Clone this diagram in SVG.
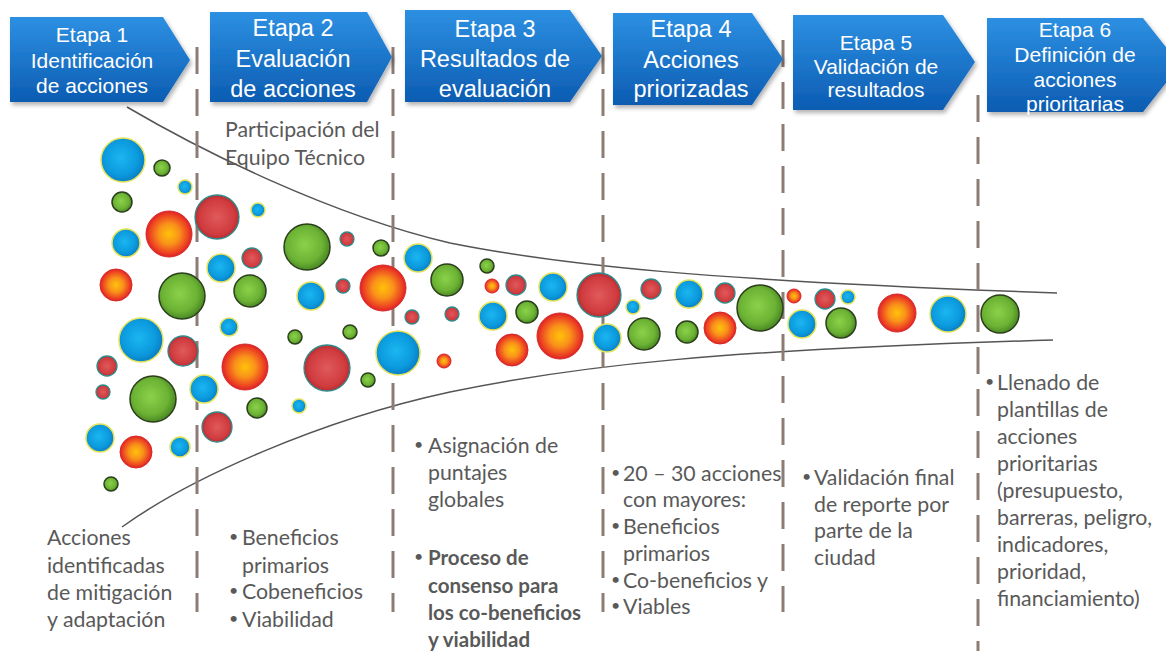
<svg xmlns="http://www.w3.org/2000/svg" width="1166" height="651" viewBox="0 0 1166 651">
<defs>
<style>
.hdr{fill:url(#gHdr);}
.ht{font-family:"Liberation Sans",Arial,sans-serif;fill:#fff;text-anchor:middle;}
.hs{font-size:21px;}
.hl{font-size:23.5px;}
.bt{font-family:Lato,"Liberation Sans",sans-serif;font-size:21.3px;fill:#595959;}
.bd{font-weight:bold;font-size:20.5px;}
.bu{font-family:Lato,"Liberation Sans",sans-serif;font-size:16px;fill:#595959;}
.dash{stroke:#8c7c74;stroke-width:3;stroke-dasharray:27 15;fill:none;}
.fun{stroke:#555;stroke-width:1.5;fill:none;}
.b{fill:url(#gB);stroke:#e4e25a;stroke-width:1.5;}
.g{fill:url(#gG);stroke:#2c3f1c;stroke-width:1.5;}
.o{fill:url(#gO);stroke:#d82828;stroke-width:1;}
.r{fill:url(#gR);stroke:#2f8b8b;stroke-width:1.3;}
</style>
<linearGradient id="gHdr" x1="0" y1="0" x2="0" y2="1">
<stop offset="0" stop-color="#2d90e2"/>
<stop offset="1" stop-color="#0c5cb2"/>
</linearGradient>
<radialGradient id="gB" cx="0.45" cy="0.45" r="0.55">
<stop offset="0" stop-color="#1bb6f0"/>
<stop offset="0.7" stop-color="#0b9ade"/>
<stop offset="1" stop-color="#0a7fc6"/>
</radialGradient>
<radialGradient id="gG" cx="0.45" cy="0.45" r="0.55">
<stop offset="0" stop-color="#8bd24a"/>
<stop offset="0.7" stop-color="#6cb234"/>
<stop offset="1" stop-color="#4b8a24"/>
</radialGradient>
<radialGradient id="gO" cx="0.5" cy="0.5" r="0.5">
<stop offset="0" stop-color="#ffc20a"/>
<stop offset="0.45" stop-color="#f9921a"/>
<stop offset="0.85" stop-color="#ec4022"/>
<stop offset="1" stop-color="#dc2228"/>
</radialGradient>
<radialGradient id="gR" cx="0.5" cy="0.5" r="0.5">
<stop offset="0" stop-color="#e05a5c"/>
<stop offset="0.8" stop-color="#d03b3e"/>
<stop offset="1" stop-color="#b82c30"/>
</radialGradient>
<filter id="sh" x="-5%" y="-5%" width="115%" height="125%">
<feDropShadow dx="2" dy="3" stdDeviation="2" flood-color="#000" flood-opacity="0.3"/>
</filter>
</defs>
<rect width="1166" height="651" fill="#fff"/>

<g id="connectors">
<path class="fun" d="M127,107 C200,150 330,215 450,243 C560,265 700,280 1057,293"/>
<path class="fun" d="M122,527 C190,478 320,420 450,392 C580,365 720,350 1053,340"/>
<line class="dash" x1="197" y1="47" x2="197" y2="612"/>
<line class="dash" x1="393" y1="47" x2="393" y2="612"/>
<line class="dash" x1="603" y1="47" x2="603" y2="612"/>
<line class="dash" x1="783" y1="40" x2="783" y2="612"/>
<line class="dash" x1="978" y1="95" x2="978" y2="651"/>
</g>

<g id="etapa1">
<polygon class="hdr" filter="url(#sh)" points="10,17 163,17 190,60 163,102 10,102"/>
<text class="ht hs" x="92" y="42">Etapa 1</text>
<text class="ht hs" x="92" y="68">Identificación</text>
<text class="ht hs" x="92" y="93">de acciones</text>
</g>
<g id="etapa2">
<polygon class="hdr" filter="url(#sh)" points="210,12 367,12 392,57 367,102 210,102"/>
<text class="ht hl" x="293" y="36">Etapa 2</text>
<text class="ht hl" x="293" y="67">Evaluación</text>
<text class="ht hl" x="293" y="97">de acciones</text>
</g>
<g id="etapa3">
<polygon class="hdr" filter="url(#sh)" points="405,10 570,10 602,56 570,102 405,102"/>
<text class="ht hl" x="495" y="37">Etapa 3</text>
<text class="ht hl" x="495" y="67">Resultados de</text>
<text class="ht hl" x="495" y="97">evaluación</text>
</g>
<g id="etapa4">
<polygon class="hdr" filter="url(#sh)" points="613,13 752,13 783,59 752,105 613,105"/>
<text class="ht hl" x="691" y="37">Etapa 4</text>
<text class="ht hl" x="691" y="68">Acciones</text>
<text class="ht hl" x="691" y="97">priorizadas</text>
</g>
<g id="etapa5">
<polygon class="hdr" filter="url(#sh)" points="793,15 943,15 975,62 943,110 793,110"/>
<text class="ht hs" x="876" y="50">Etapa 5</text>
<text class="ht hs" x="876" y="74">Validación de</text>
<text class="ht hs" x="876" y="97">resultados</text>
</g>
<g id="etapa6">
<polygon class="hdr" filter="url(#sh)" points="987,18 1143,18 1180,65 1143,112 987,112"/>
<text class="ht hs" x="1075" y="37">Etapa 6</text>
<text class="ht hs" x="1075" y="62">Definición de</text>
<text class="ht hs" x="1075" y="87">acciones</text>
<text class="ht hs" x="1075" y="111">prioritarias</text>
</g>

<g id="bubbles">
<circle class="b" cx="123" cy="160" r="22"/>
<circle class="g" cx="162" cy="168" r="8"/>
<circle class="b" cx="185" cy="187" r="7"/>
<circle class="g" cx="122" cy="202" r="10"/>
<circle class="r" cx="217" cy="217" r="22"/>
<circle class="b" cx="258" cy="210" r="7"/>
<circle class="o" cx="169" cy="234" r="23"/>
<circle class="b" cx="126" cy="243" r="14"/>
<circle class="g" cx="307" cy="247" r="23"/>
<circle class="r" cx="347" cy="239" r="7"/>
<circle class="g" cx="381" cy="248" r="8"/>
<circle class="b" cx="221" cy="268" r="14"/>
<circle class="r" cx="252" cy="258" r="10"/>
<circle class="o" cx="116" cy="285" r="16"/>
<circle class="g" cx="182" cy="296" r="23"/>
<circle class="g" cx="250" cy="291" r="16"/>
<circle class="b" cx="311" cy="296" r="14"/>
<circle class="r" cx="343" cy="286" r="7"/>
<circle class="o" cx="383" cy="288" r="23"/>
<circle class="b" cx="141" cy="340" r="22"/>
<circle class="r" cx="183" cy="351" r="15"/>
<circle class="b" cx="229" cy="327" r="9"/>
<circle class="g" cx="295" cy="337" r="7"/>
<circle class="g" cx="350" cy="332" r="7"/>
<circle class="b" cx="398" cy="353" r="22"/>
<circle class="r" cx="107" cy="366" r="10"/>
<circle class="o" cx="245" cy="367" r="23"/>
<circle class="r" cx="327" cy="368" r="23"/>
<circle class="r" cx="103" cy="392" r="7"/>
<circle class="g" cx="153" cy="399" r="23"/>
<circle class="b" cx="204" cy="389" r="14"/>
<circle class="g" cx="368" cy="380" r="7"/>
<circle class="g" cx="257" cy="408" r="10"/>
<circle class="b" cx="299" cy="406" r="7"/>
<circle class="r" cx="217" cy="427" r="15"/>
<circle class="b" cx="100" cy="438" r="14"/>
<circle class="o" cx="136" cy="452" r="16"/>
<circle class="b" cx="180" cy="447" r="10"/>
<circle class="g" cx="111" cy="484" r="7"/>
<circle class="b" cx="418" cy="258" r="14"/>
<circle class="g" cx="447" cy="280" r="16"/>
<circle class="r" cx="412" cy="317" r="7"/>
<circle class="r" cx="452" cy="314" r="7"/>
<circle class="o" cx="444" cy="361" r="7"/>
<circle class="g" cx="487" cy="266" r="7"/>
<circle class="o" cx="492" cy="286" r="7"/>
<circle class="r" cx="516" cy="285" r="10"/>
<circle class="b" cx="553" cy="287" r="14"/>
<circle class="r" cx="599" cy="295" r="22"/>
<circle class="b" cx="493" cy="316" r="14"/>
<circle class="g" cx="527" cy="312" r="11"/>
<circle class="o" cx="512" cy="350" r="16"/>
<circle class="o" cx="560" cy="336" r="23"/>
<circle class="b" cx="607" cy="338" r="14"/>
<circle class="b" cx="633" cy="307" r="7"/>
<circle class="r" cx="651" cy="289" r="10"/>
<circle class="g" cx="644" cy="334" r="16"/>
<circle class="b" cx="689" cy="294" r="14"/>
<circle class="g" cx="687" cy="332" r="11"/>
<circle class="r" cx="725" cy="293" r="10"/>
<circle class="o" cx="720" cy="328" r="16"/>
<circle class="g" cx="760" cy="308" r="23"/>
<circle class="o" cx="794" cy="296" r="7"/>
<circle class="r" cx="825" cy="299" r="10"/>
<circle class="b" cx="848" cy="297" r="7"/>
<circle class="b" cx="802" cy="324" r="14"/>
<circle class="g" cx="841" cy="323" r="15"/>
<circle class="o" cx="897" cy="313" r="19"/>
<circle class="b" cx="948" cy="314" r="18"/>
<circle class="g" cx="1000" cy="314" r="19"/>
</g>

<g id="nota-equipo">
<text class="bt" x="225" y="137">Participación del</text>
<text class="bt" x="225" y="165">Equipo Técnico</text>
</g>
<g id="texto1">
<text class="bt" x="47" y="545">Acciones</text>
<text class="bt" x="47" y="573">identificadas</text>
<text class="bt" x="47" y="600">de mitigación</text>
<text class="bt" x="47" y="627">y adaptación</text>
</g>
<g id="texto2">
<text class="bu" x="229" y="542">•</text><text class="bt" x="242" y="545">Beneficios</text>
<text class="bt" x="242" y="573">primarios</text>
<text class="bu" x="229" y="596">•</text><text class="bt" x="242" y="599">Cobeneficios</text>
<text class="bu" x="229" y="624">•</text><text class="bt" x="242" y="627">Viabilidad</text>
</g>
<g id="texto3">
<text class="bu" x="414" y="450">•</text><text class="bt" x="428" y="453">Asignación de</text>
<text class="bt" x="428" y="480">puntajes</text>
<text class="bt" x="428" y="507">globales</text>
<text class="bu" x="414" y="562">•</text><text class="bt bd" x="428" y="565">Proceso de</text>
<text class="bt bd" x="428" y="593">consenso para</text>
<text class="bt bd" x="428" y="620">los co-beneficios</text>
<text class="bt bd" x="428" y="647">y viabilidad</text>
</g>
<g id="texto4">
<text class="bu" x="611" y="478">•</text><text class="bt" x="623" y="481">20 – 30 acciones</text>
<text class="bt" x="623" y="507">con mayores:</text>
<text class="bu" x="611" y="531">•</text><text class="bt" x="623" y="534">Beneficios</text>
<text class="bt" x="623" y="561">primarios</text>
<text class="bu" x="611" y="585">•</text><text class="bt" x="623" y="588">Co-beneficios y</text>
<text class="bu" x="611" y="611">•</text><text class="bt" x="623" y="614">Viables</text>
</g>
<g id="texto5">
<text class="bu" x="802" y="482">•</text><text class="bt" x="814" y="485">Validación final</text>
<text class="bt" x="814" y="512">de reporte por</text>
<text class="bt" x="814" y="538">parte de la</text>
<text class="bt" x="814" y="565">ciudad</text>
</g>
<g id="texto6">
<text class="bu" x="985" y="387">•</text><text class="bt" x="997" y="390">Llenado de</text>
<text class="bt" x="997" y="417">plantillas de</text>
<text class="bt" x="997" y="444">acciones</text>
<text class="bt" x="997" y="471">prioritarias</text>
<text class="bt" x="997" y="498">(presupuesto,</text>
<text class="bt" x="997" y="525">barreras, peligro,</text>
<text class="bt" x="997" y="552">indicadores,</text>
<text class="bt" x="997" y="579">prioridad,</text>
<text class="bt" x="997" y="606">financiamiento)</text>
</g>
</svg>
